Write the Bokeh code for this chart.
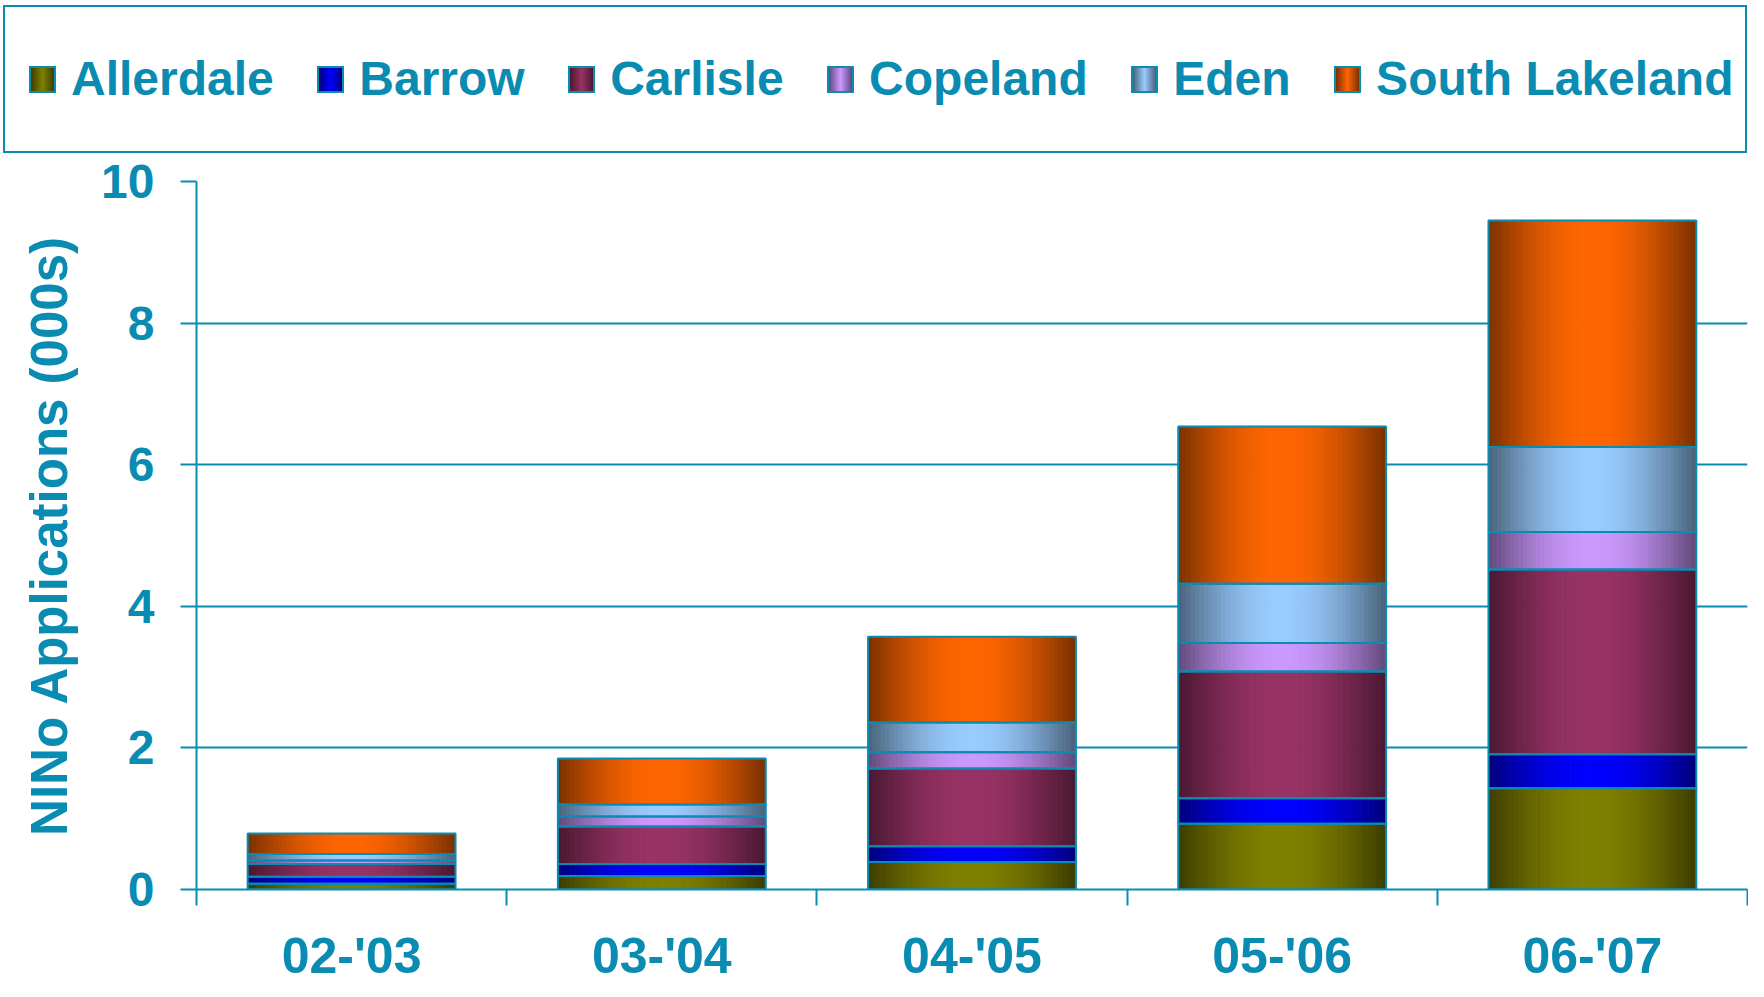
import numpy as np
from bokeh.plotting import figure
from bokeh.layouts import column
from bokeh.models import ColumnDataSource, FixedTicker, Div
from bokeh.embed import file_html
from bokeh.resources import INLINE

# ---- data (thousands of NINo applications) ----
years = ["02-'03", "03-'04", "04-'05", "05-'06", "06-'07"]
allerdale = [0.08, 0.19, 0.39, 0.93, 1.43]
barrow = [0.10, 0.17, 0.22, 0.36, 0.48]
carlisle = [0.18, 0.53, 1.10, 1.79, 2.61]
copeland = [0.05, 0.14, 0.23, 0.40, 0.53]
eden = [0.09, 0.17, 0.42, 0.84, 1.20]
south_lakeland = [0.29, 0.65, 1.21, 2.22, 3.20]

series_names = ["Allerdale", "Barrow", "Carlisle", "Copeland", "Eden", "South Lakeland"]
series_values = [allerdale, barrow, carlisle, copeland, eden, south_lakeland]
series_colors = ["#808000", "#0000FF", "#993366", "#CC99FF", "#99CCFF", "#FF6600"]

y_ticks = [0, 2, 4, 6, 8, 10]

TEAL = "#0A8BB2"
FONT = "Liberation Sans"
BAR_W = 0.67
N_STRIPS = 48
EDGE = 0.48

TOTAL_W = 1748
LEG_H = 153
LEFT, TOP, FRAME_W, FRAME_H = 196, 28, 1551, 708


def shade(hex_color, f):
    h = hex_color.lstrip("#")
    r, g, b = (int(h[i:i + 2], 16) for i in (0, 2, 4))
    return "#%02x%02x%02x" % (int(r * f), int(g * f), int(b * f))


# ---------------- legend (boxed, horizontal) ----------------
entries = []
for name, col in zip(series_names, series_colors):
    dark = shade(col, EDGE)
    entries.append(
        f'<div style="display:flex;align-items:center;">'
        f'<span style="display:inline-block;width:27px;height:27px;border:2px solid {TEAL};'
        f'background:linear-gradient(to right,{dark} 0%,{col} 50%,{dark} 100%);"></span>'
        f'<span style="margin-left:15px;">{name}</span></div>'
    )
legend_html = (
    f'<div style="box-sizing:border-box;position:absolute;left:3px;top:5px;width:1744px;height:148px;'
    f'border:2px solid {TEAL};background:white;display:flex;align-items:center;'
    f'padding-left:24px;gap:43.5px;font-family:\'{FONT}\';font-weight:bold;font-size:48px;'
    f'color:{TEAL};white-space:nowrap;line-height:1;">' + "".join(entries) + "</div>"
)
legend_div = Div(text=legend_html, width=TOTAL_W, height=LEG_H, margin=0,
                 styles={"position": "relative"})

# ---------------- main chart ----------------
p = figure(
    frame_width=FRAME_W, frame_height=FRAME_H,
    x_range=(0, 5), y_range=(0, 10),
    output_backend="svg", toolbar_location=None,
    min_border_left=LEFT, min_border_top=TOP, min_border_bottom=90, min_border_right=1,
    outline_line_color=None, background_fill_color="white", border_fill_color="white",
)

centers = np.arange(len(years)) + 0.5
bottoms = np.zeros(len(years))

outline_sources = []
for name, vals, col in zip(series_names, series_values, series_colors):
    vals = np.array(vals, dtype=float)
    tops = bottoms + vals
    xs, ws, bs, ts, cs = [], [], [], [], []
    for j in range(N_STRIPS):
        t = (j + 0.5) / N_STRIPS
        f = EDGE + (1 - EDGE) * np.sin(np.pi * t)
        c = shade(col, f)
        for k in range(len(years)):
            xs.append(centers[k] - BAR_W / 2 + t * BAR_W)
            ws.append(BAR_W / N_STRIPS)
            bs.append(bottoms[k])
            ts.append(tops[k])
            cs.append(c)
    src = ColumnDataSource(dict(x=xs, w=ws, b=bs, t=ts, c=cs))
    p.vbar(x="x", width="w", bottom="b", top="t", source=src,
           fill_color="c", line_color="c", line_width=1)
    outline_sources.append(ColumnDataSource(dict(x=centers, b=bottoms.copy(), t=tops.copy())))
    bottoms = tops

for src in outline_sources:
    p.vbar(x="x", width=BAR_W, bottom="b", top="t", source=src,
           fill_color=None, line_color=TEAL, line_width=2)

# axes
p.xaxis.ticker = FixedTicker(ticks=list(centers), minor_ticks=list(range(len(years) + 1)))
p.xaxis.major_label_overrides = {float(c): y for c, y in zip(centers, years)}
p.xaxis.major_tick_out = 0
p.xaxis.major_tick_in = 0
p.xaxis.minor_tick_out = 16
p.xaxis.minor_tick_in = 0
p.xaxis.minor_tick_line_color = TEAL
p.xaxis.minor_tick_line_width = 2
p.xaxis.axis_line_color = TEAL
p.xaxis.axis_line_width = 2
p.xaxis.major_label_text_font = FONT
p.xaxis.major_label_text_font_style = "bold"
p.xaxis.major_label_text_font_size = "50px"
p.xaxis.major_label_text_color = TEAL
p.xaxis.major_label_standoff = 22

p.yaxis.ticker = FixedTicker(ticks=y_ticks, minor_ticks=[])
p.yaxis.major_tick_out = 16
p.yaxis.major_tick_in = 0
p.yaxis.major_tick_line_color = TEAL
p.yaxis.major_tick_line_width = 2
p.yaxis.axis_line_color = TEAL
p.yaxis.axis_line_width = 2
p.yaxis.major_label_text_font = FONT
p.yaxis.major_label_text_font_style = "bold"
p.yaxis.major_label_text_font_size = "48px"
p.yaxis.major_label_text_color = TEAL
p.yaxis.major_label_standoff = 26
p.yaxis.axis_label = "NINo Applications (000s)"
p.yaxis.axis_label_text_font = FONT
p.yaxis.axis_label_text_font_style = "bold"
p.yaxis.axis_label_text_font_size = "51px"
p.yaxis.axis_label_text_color = TEAL
p.yaxis.axis_label_standoff = 20

p.ygrid.ticker = FixedTicker(ticks=y_ticks[1:])
p.ygrid.grid_line_color = TEAL
p.ygrid.grid_line_width = 2
p.xgrid.ticker = FixedTicker(ticks=[len(years)])
p.xgrid.grid_line_color = TEAL
p.xgrid.grid_line_width = 2

layout = column(legend_div, p, spacing=0)
open("out.html", "w").write(file_html(layout, INLINE))
